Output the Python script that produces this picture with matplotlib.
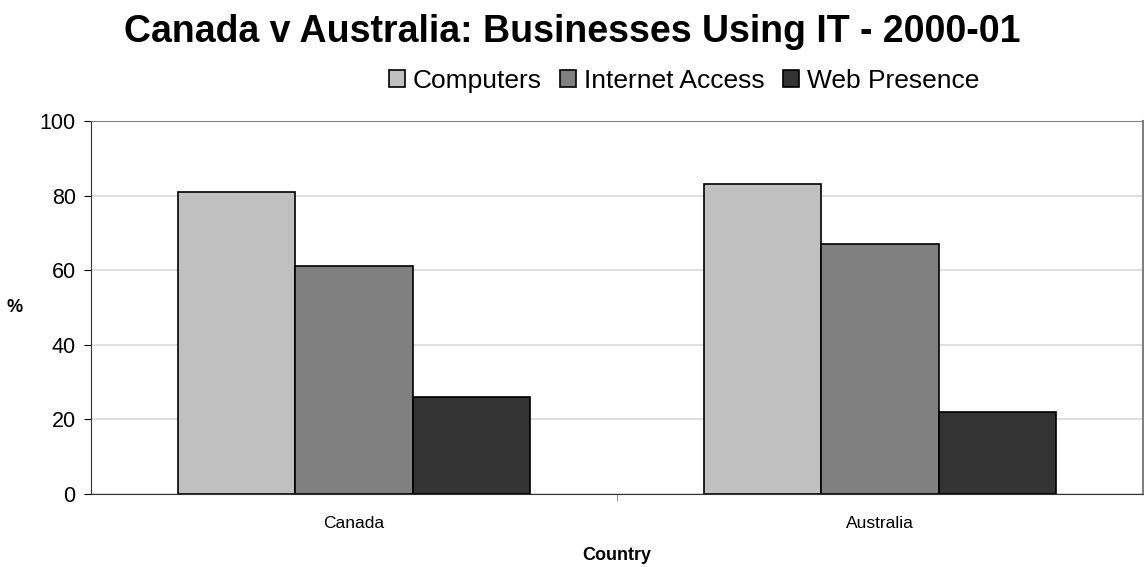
import matplotlib
matplotlib.use("Agg")
import matplotlib.pyplot as plt
import numpy as np

plt.rcParams["font.family"] = ["Liberation Sans", "DejaVu Sans"]

countries = ["Canada", "Australia"]
series = ["Computers", "Internet Access", "Web Presence"]
computers = [81, 83]
internet = [61, 67]
web = [26, 22]
colors = ["#C0C0C0", "#808080", "#333333"]

fig = plt.figure(figsize=(11.44, 5.67), dpi=100)
ax = fig.add_axes([91 / 1144, 1 - 494 / 567, 1052 / 1144, 373 / 567])

x = np.arange(len(countries))
w = 0.67 / 3
for i, (vals, name) in enumerate(zip([computers, internet, web], series)):
    ax.bar(x + (i - 1) * w, vals, w, color=colors[i], edgecolor="black",
           linewidth=1.2, label=name, zorder=3)

ax.set_xlim(-0.5, 1.5)
ax.set_ylim(0, 100)
ax.set_yticks(range(0, 101, 20))
ax.yaxis.grid(True, color="#d9d9d9", linewidth=1.2, zorder=0)
ax.set_xticks(x)
ax.set_xticklabels(countries, fontsize=12.5)
ax.set_xticks([0.5], minor=True)
ax.tick_params(axis="x", which="major", length=0, pad=16)
ax.tick_params(axis="x", which="minor", length=5, color="#808080")
ax.tick_params(axis="y", labelsize=15.5, length=5, pad=6)

ax.spines["left"].set_color("#333333")
ax.spines["bottom"].set_color("#333333")
ax.spines["top"].set_color("#808080")
ax.spines["right"].set_color("#808080")
ax.spines["right"].set_linewidth(1.5)

# axis titles placed directly, like the original layout
fig.text(617 / 1144, 1 - 555 / 567, "Country", ha="center", va="center",
         fontsize=13, fontweight="bold")
fig.text(15 / 1144, 1 - 307 / 567, "%", ha="center", va="center",
         fontsize=13, fontweight="bold")

fig.text(0.5, 1 - 32 / 567, "Canada v Australia: Businesses Using IT - 2000-01",
         ha="center", va="center", fontsize=27, fontweight="bold")

ax.legend(loc="center", bbox_to_anchor=(0.564, 1 + 40 / 373), ncol=3, frameon=False,
          fontsize=19, handlelength=0.6, handleheight=0.6, handletextpad=0.3,
          columnspacing=0.7, borderaxespad=0.0)

fig.savefig("out.png", dpi=100)
